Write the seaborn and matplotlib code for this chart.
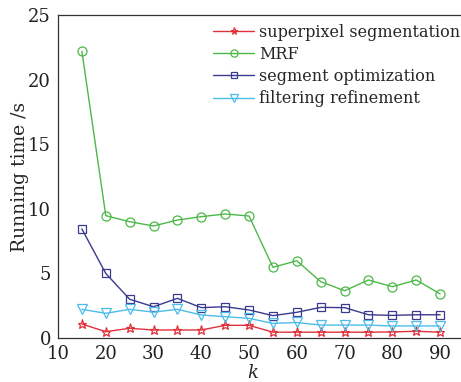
import pandas as pd
import matplotlib
matplotlib.use("Agg")
import matplotlib.pyplot as plt
import seaborn as sns

k = [15, 20, 25, 30, 35, 40, 45, 50, 55, 60, 65, 70, 75, 80, 85, 90]
superpixel = [1.08, 0.49, 0.75, 0.62, 0.62, 0.62, 0.98, 0.98, 0.45, 0.45, 0.45, 0.45, 0.45, 0.47, 0.52, 0.45]
mrf = [22.2, 9.47, 9.0, 8.67, 9.13, 9.39, 9.6, 9.44, 5.47, 5.98, 4.36, 3.66, 4.49, 3.97, 4.49, 3.41]
segment_opt = [8.44, 5.0, 3.0, 2.42, 3.07, 2.35, 2.42, 2.17, 1.73, 1.99, 2.37, 2.35, 1.8, 1.75, 1.8, 1.8]
filtering = [2.22, 1.91, 2.22, 2.0, 2.22, 1.78, 1.65, 1.52, 1.13, 1.2, 1.0, 1.0, 1.0, 0.93, 0.93, 0.93]

series = [
    ("superpixel segmentation", superpixel, "#e0313b", "*"),
    ("MRF", mrf, "#4db848", "o"),
    ("segment optimization", segment_opt, "#3a3a8e", "s"),
    ("filtering refinement", filtering, "#4cbde9", "v"),
]

sns.set_style("white")
plt.rcParams["font.family"] = ["DejaVu Serif"]
plt.rcParams["mathtext.fontset"] = "dejavuserif"

fig = plt.figure(figsize=(4.61, 3.82), dpi=100)
ax = fig.add_axes([58 / 461, 44 / 382, 406 / 461, 323 / 382])

msize = {"*": 6.5, "o": 6.5, "s": 5.5, "v": 6.5}
for name, vals, col, mk in series:
    sns.lineplot(x=k, y=vals, ax=ax, label=name, color=col, marker=mk,
                 markersize=msize[mk], markerfacecolor="none",
                 markeredgecolor=col, markeredgewidth=0.9, linewidth=1.0)

ax.set_xlim(10, 95)
ax.set_ylim(0, 25)
ax.set_xticks(range(10, 91, 10))
ax.set_yticks(range(0, 26, 5))
ax.tick_params(direction="in", length=4, width=0.8, labelsize=13, colors="#222222")
ax.tick_params(axis="x", pad=5)
ax.tick_params(axis="y", pad=5)
for s in ax.spines.values():
    s.set_color("#333333")
    s.set_linewidth(0.9)

ax.set_xlabel("$k$", fontsize=13)
ax.xaxis.set_label_coords(0.48, -0.082)
ax.set_ylabel("Running time /s", fontsize=13.5, labelpad=-1)

leg = ax.legend(loc="upper left", bbox_to_anchor=(0.36, 1.0), frameon=False,
                fontsize=11.5, handlelength=2.6, handletextpad=0.3,
                labelspacing=0.32, borderaxespad=0.15, markerscale=0.8)

fig.savefig("out.png", dpi=100)
